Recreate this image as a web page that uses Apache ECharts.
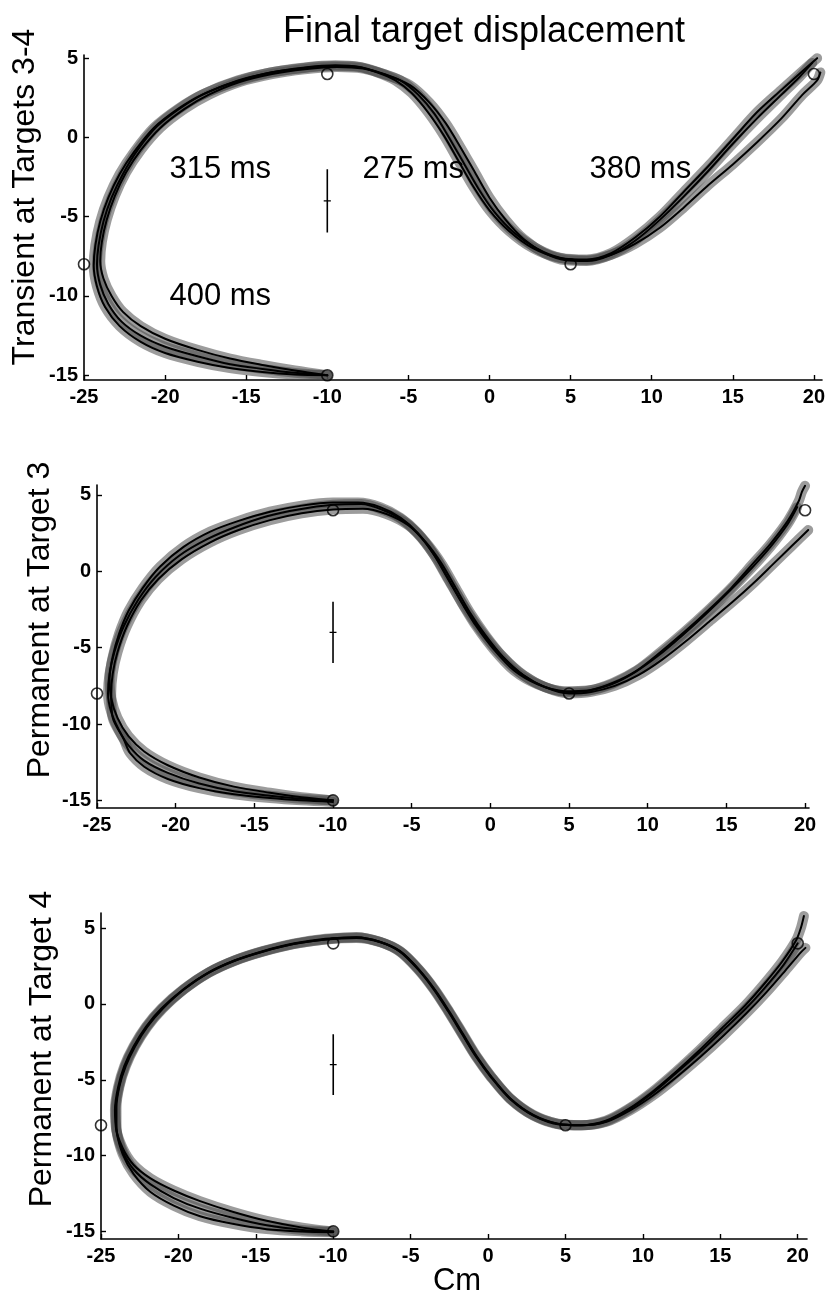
<!DOCTYPE html>
<html>
<head>
<meta charset="utf-8">
<script src="https://cdn.jsdelivr.net/npm/echarts@6/dist/echarts.min.js"></script>
<style>html,body{margin:0;padding:0;background:#fff}#chart{width:833px;height:1300px}</style>
</head>
<body>
<div id="chart"></div>
<script>
// ---------- DATA ----------
const title = 'Final target displacement';
const panelNames = ['Transient at Targets 3-4', 'Permanent at Target 3', 'Permanent at Target 4'];
const xAxisName = 'Cm';
const xTicks = [-25, -20, -15, -10, -5, 0, 5, 10, 15, 20];
const yTicks = [-15, -10, -5, 0, 5];
const targets = [[-10, -15], [-25, -8], [-10, 4], [5, -8], [20, 4]];
const errorBarV = [[-10, -2], [-10, -6]];
const errorBarH = [[-10.22, -4], [-9.78, -4]];
const durationLabels = ['315 ms', '275 ms', '380 ms', '400 ms'];
const durationAnchors = [[-16.6, -2], [-4.7, -2], [9.3, -2], [-16.6, -10]];

// Panel 1: transient at targets 3-4
const transientA = [[-10,-15],[-12,-14.85],[-14,-14.6],[-16,-14.3],[-18,-13.8],[-20,-13.2],[-21.5,-12.5],[-22.7,-11.6],[-23.5,-10.5],[-24.0,-9.3],[-24.2,-8.0],[-24.1,-6.8],[-23.8,-5.3],[-23.3,-3.8],[-22.6,-2.3],[-21.7,-0.8],[-20.5,0.7],[-19,1.9],[-17.5,2.8],[-15.5,3.6],[-13.5,4.1],[-11.5,4.4],[-9.5,4.55],[-8,4.45],[-6.8,4.1],[-5.5,3.6],[-4.4,2.7],[-3.4,1.5],[-2.5,0.0],[-1.6,-1.6],[-0.7,-3.2],[0.3,-4.7],[1.5,-6.0],[2.9,-7.0],[4.4,-7.6],[6,-7.7],[7.5,-7.3],[9,-6.3],[10.5,-5.0],[12,-3.4],[13.5,-1.8],[15,-0.1],[16.5,1.6],[18,3.0],[19.2,4.1],[20.2,5.0]];
const transientB = [[-10,-15],[-12,-14.7],[-14,-14.35],[-16,-13.95],[-18,-13.4],[-20,-12.7],[-21.5,-11.9],[-22.6,-11.0],[-23.3,-10.0],[-23.8,-8.9],[-24.0,-7.8],[-23.9,-6.6],[-23.6,-5.2],[-23.1,-3.7],[-22.4,-2.2],[-21.5,-0.8],[-20.3,0.6],[-18.8,1.8],[-17.3,2.7],[-15.4,3.5],[-13.4,4.0],[-11.4,4.3],[-9.4,4.45],[-7.8,4.35],[-6.4,3.95],[-4.9,3.3],[-3.7,2.2],[-2.7,0.9],[-1.8,-0.6],[-0.9,-2.2],[0.0,-3.8],[1.0,-5.2],[2.1,-6.4],[3.4,-7.3],[4.7,-7.75],[6,-7.8],[7.5,-7.4],[9,-6.5],[10.5,-5.2],[12,-3.7],[13.5,-2.1],[15,-0.4],[16.5,1.2],[18,2.7],[19.1,3.8],[19.9,4.7]];
const transientC = [[-10,-15],[-12,-14.95],[-14,-14.8],[-16,-14.55],[-18,-14.15],[-20,-13.6],[-21.5,-12.9],[-22.8,-11.9],[-23.7,-10.7],[-24.2,-9.4],[-24.4,-8.1],[-24.3,-6.8],[-24.0,-5.3],[-23.5,-3.8],[-22.8,-2.3],[-21.9,-0.9],[-20.7,0.6],[-19.2,1.8],[-17.7,2.7],[-15.7,3.5],[-13.7,4.05],[-11.7,4.35],[-9.7,4.5],[-8.1,4.45],[-6.9,4.1],[-5.8,3.6],[-4.8,2.8],[-3.8,1.6],[-2.8,0.1],[-1.9,-1.5],[-1.0,-3.1],[0.0,-4.6],[1.2,-5.9],[2.7,-7.0],[4.3,-7.6],[6,-7.75],[7.5,-7.4],[9,-6.7],[10.5,-5.7],[12,-4.4],[13.5,-3.0],[15,-1.7],[16.5,-0.3],[18,1.2],[19.3,2.7],[20.2,3.6],[20.4,4.1]];

// Panel 2: permanent at target 3
const target3A = [[-10,-15],[-12,-14.9],[-14,-14.7],[-16.3,-14.4],[-18.5,-13.9],[-20.5,-13.2],[-22,-12.4],[-23.0,-11.4],[-23.6,-10.4],[-24.1,-9.2],[-24.3,-8.0],[-24.2,-6.7],[-23.9,-5.3],[-23.3,-3.6],[-22.4,-1.9],[-21.3,-0.4],[-19.8,1.0],[-18,2.1],[-16.2,2.9],[-14.2,3.6],[-12.2,4.05],[-10,4.35],[-8.2,4.4],[-6.8,4.0],[-5.5,3.3],[-4.4,2.2],[-3.4,0.8],[-2.5,-0.8],[-1.6,-2.4],[-0.6,-3.9],[0.5,-5.3],[1.8,-6.6],[3.3,-7.5],[4.9,-7.9],[6.3,-7.8],[7.8,-7.3],[9.3,-6.5],[10.8,-5.3],[12.3,-4.0],[13.8,-2.6],[15.3,-1.1],[16.6,0.4],[17.8,1.8],[18.9,3.3],[19.6,4.6],[19.8,5.2],[20.0,5.6]];
const target3B = [[-10,-15.1],[-12,-15.0],[-14,-14.85],[-16.3,-14.6],[-18.5,-14.2],[-20.5,-13.6],[-22,-12.8],[-22.9,-11.9],[-23.3,-11.0],[-24.0,-9.6],[-24.1,-8.0],[-24.0,-6.7],[-23.7,-5.3],[-23.1,-3.6],[-22.2,-1.9],[-21.1,-0.5],[-19.6,0.8],[-17.8,1.9],[-16.0,2.7],[-14.0,3.35],[-12.0,3.8],[-10,4.05],[-8.1,4.1],[-6.6,3.75],[-5.2,3.0],[-4.1,1.9],[-3.1,0.5],[-2.2,-1.1],[-1.3,-2.7],[-0.3,-4.2],[0.8,-5.6],[2.1,-6.8],[3.5,-7.6],[5.0,-8.0],[6.4,-7.9],[7.9,-7.5],[9.4,-6.8],[10.9,-5.8],[12.4,-4.6],[13.9,-3.3],[15.4,-2.0],[16.8,-0.7],[18.0,0.5],[19.2,1.7],[20.2,2.7]];
const target3C = [[-10,-15],[-12,-14.8],[-14,-14.5],[-16.3,-14.1],[-18.5,-13.5],[-20.5,-12.7],[-22,-11.8],[-23.0,-10.8],[-23.7,-9.6],[-24.1,-8.3],[-24.2,-7.0],[-24.0,-5.6],[-23.6,-4.1],[-23.0,-2.6],[-22.1,-1.1],[-21.0,0.3],[-19.5,1.6],[-17.8,2.6],[-16.0,3.3],[-14.0,3.9],[-12.0,4.3],[-10,4.5],[-8.4,4.5],[-7.0,4.2],[-5.7,3.5],[-4.6,2.5],[-3.6,1.1],[-2.7,-0.5],[-1.8,-2.1],[-0.9,-3.6],[0.2,-5.1],[1.5,-6.5],[3.0,-7.4],[4.7,-7.85],[6.2,-7.8],[7.7,-7.4],[9.2,-6.6],[10.7,-5.5],[12.2,-4.2],[13.7,-2.8],[15.2,-1.3],[16.6,0.2],[17.8,1.6],[18.9,3.1],[19.5,4.2]];

// Panel 3: permanent at target 4
const target4A = [[-10,-15],[-12,-14.75],[-14.3,-14.3],[-16.5,-13.7],[-18.6,-13.0],[-20.3,-12.3],[-21.8,-11.5],[-22.9,-10.6],[-23.6,-9.5],[-24.0,-8.2],[-24.0,-6.8],[-23.8,-5.4],[-23.4,-4.1],[-22.8,-2.8],[-22.0,-1.5],[-21.0,-0.3],[-19.6,1.0],[-18.0,2.1],[-16.3,2.9],[-14.5,3.5],[-12.5,4.0],[-10.5,4.3],[-8.5,4.4],[-7.0,4.1],[-5.7,3.5],[-4.5,2.3],[-3.5,1.0],[-2.6,-0.4],[-1.7,-1.9],[-0.8,-3.4],[0.2,-4.8],[1.4,-6.2],[2.9,-7.3],[4.5,-7.9],[6.0,-8.0],[7.6,-7.7],[9.1,-6.9],[10.6,-5.8],[12.1,-4.5],[13.6,-3.1],[15.1,-1.6],[16.6,-0.1],[17.9,1.4],[19.0,2.8],[19.9,4.2],[20.2,5.0],[20.4,5.8]];
const target4B = [[-10,-15],[-12,-14.9],[-14.3,-14.6],[-16.5,-14.1],[-18.6,-13.5],[-20.3,-12.8],[-21.8,-11.9],[-22.9,-10.9],[-23.6,-9.7],[-24.0,-8.3],[-24.05,-6.9],[-23.85,-5.5],[-23.45,-4.1],[-22.85,-2.8],[-22.05,-1.5],[-21.05,-0.3],[-19.65,0.95],[-18.05,2.05],[-16.35,2.85],[-14.55,3.45],[-12.55,3.95],[-10.5,4.25],[-8.5,4.35],[-6.9,4.05],[-5.6,3.4],[-4.4,2.2],[-3.4,0.9],[-2.5,-0.5],[-1.6,-2.0],[-0.7,-3.5],[0.3,-4.9],[1.5,-6.3],[3.0,-7.4],[4.6,-7.95],[6.1,-8.0],[7.7,-7.75],[9.2,-7.0],[10.7,-6.0],[12.2,-4.8],[13.7,-3.5],[15.2,-2.1],[16.7,-0.6],[18.0,0.8],[19.2,2.2],[20.2,3.4],[20.5,3.7]];
const target4C = [[-10,-15.05],[-12,-15.0],[-14.3,-14.85],[-16.5,-14.5],[-18.6,-14.0],[-20.3,-13.3],[-21.8,-12.4],[-22.9,-11.2],[-23.6,-9.9],[-24.0,-8.4],[-24.1,-7.0],[-23.9,-5.5],[-23.5,-4.1],[-22.9,-2.8],[-22.1,-1.5],[-21.1,-0.3],[-19.7,0.95],[-18.1,2.05],[-16.4,2.85],[-14.6,3.45],[-12.6,3.95],[-10.5,4.25],[-8.5,4.4],[-7.0,4.1],[-5.7,3.45],[-4.5,2.25],[-3.5,0.95],[-2.6,-0.45],[-1.7,-1.95],[-0.8,-3.45],[0.2,-4.85],[1.4,-6.25],[2.9,-7.35],[4.5,-7.9],[6.0,-8.0],[7.6,-7.75],[9.1,-6.95],[10.6,-5.9],[12.1,-4.6],[13.6,-3.25],[15.1,-1.8],[16.6,-0.35],[17.9,1.1],[19.1,2.6],[20.0,4.0]];

const panelTrajectories = [
  [transientA, transientB, transientC],
  [target3A, target3B, target3C],
  [target4A, target4B, target4C]
];

// ---------- LAYOUT ----------
const FONT = '"Liberation Sans", Arial, Helvetica, sans-serif';
const grids = [
  {left: 84, top: 55, width: 738, height: 325},
  {left: 97, top: 485, width: 712, height: 323},
  {left: 101, top: 913, width: 706, height: 326}
];
const xRanges = [[-25, 20.5], [-25, 20.25], [-25, 20.6]];
const yRanges = [[-15.3, 5.2], [-15.5, 5.65], [-15.5, 6.0]];
const nameCenters = [[25, 197], [40, 620], [42, 1049]];

const xAxes = [], yAxes = [], series = [];
grids.forEach((g, i) => {
  const labelStyle = {color: '#000', fontSize: 20, fontFamily: FONT, fontWeight: 'bold'};
  const tickStyle = {inside: true, length: 5, lineStyle: {color: '#000', width: 1.4}};
  const lineStyle = {show: true, onZero: false, lineStyle: {color: '#000', width: 1.6}};
  xAxes.push({
    type: 'value', gridIndex: i, min: xRanges[i][0], max: xRanges[i][1],
    axisLine: lineStyle, splitLine: {show: false},
    axisLabel: Object.assign({}, labelStyle, {customValues: xTicks, margin: 7}),
    axisTick: Object.assign({}, tickStyle, {customValues: xTicks})
  });
  yAxes.push({
    type: 'value', gridIndex: i, min: yRanges[i][0], max: yRanges[i][1],
    axisLine: lineStyle, splitLine: {show: false},
    axisLabel: Object.assign({}, labelStyle, {customValues: yTicks, margin: 6}),
    axisTick: Object.assign({}, tickStyle, {customValues: yTicks})
  });

  panelTrajectories[i].forEach(tr => {
    series.push({
      type: 'line', xAxisIndex: i, yAxisIndex: i, data: tr, smooth: 0.3,
      showSymbol: false, z: 1, silent: true,
      lineStyle: {color: '#4a4a4a', width: 10, opacity: 0.55, cap: 'round', join: 'round'}
    });
  });
  panelTrajectories[i].forEach(tr => {
    series.push({
      type: 'line', xAxisIndex: i, yAxisIndex: i, data: tr, smooth: 0.3,
      showSymbol: false, z: 3, silent: true,
      lineStyle: {color: '#000', width: 2, cap: 'round', join: 'round'}
    });
  });
  series.push({
    type: 'line', xAxisIndex: i, yAxisIndex: i, data: errorBarV, showSymbol: false, z: 4,
    lineStyle: {color: '#000', width: 1.6}
  });
  series.push({
    type: 'line', xAxisIndex: i, yAxisIndex: i, data: errorBarH, showSymbol: false, z: 4,
    lineStyle: {color: '#000', width: 1.4}
  });
  series.push({
    type: 'scatter', xAxisIndex: i, yAxisIndex: i, data: targets, symbol: 'circle', symbolSize: 11, z: 5,
    itemStyle: {color: 'rgba(255,255,255,0)', borderColor: '#000', borderWidth: 1.6}
  });
});

const graphic = [
  {type: 'text', x: 484, y: 32, style: {text: title, font: '36px ' + FONT, fill: '#000', textAlign: 'center', textVerticalAlign: 'middle'}},
  {type: 'text', x: 457, y: 1281, style: {text: xAxisName, font: '31px ' + FONT, fill: '#000', textAlign: 'center', textVerticalAlign: 'middle'}}
];
panelNames.forEach((n, i) => {
  graphic.push({type: 'text', x: nameCenters[i][0], y: nameCenters[i][1], rotation: Math.PI / 2,
    style: {text: n, font: '32px ' + FONT, fill: '#000', textAlign: 'center', textVerticalAlign: 'middle'}});
});

const chart = echarts.init(document.getElementById('chart'), null, {renderer: 'canvas'});
chart.setOption({
  animation: false,
  backgroundColor: '#fff',
  grid: grids,
  xAxis: xAxes,
  yAxis: yAxes,
  series: series,
  graphic: graphic
});

// duration annotations, anchored in data coordinates of the top panel
const annot = durationAnchors.map((p, k) => {
  const px = chart.convertToPixel({xAxisIndex: 0, yAxisIndex: 0}, p);
  return {type: 'text', x: px[0], y: px[1], z: 10,
    style: {text: durationLabels[k], font: '31px ' + FONT, fill: '#000', textAlign: 'center', textVerticalAlign: 'middle'}};
});
chart.setOption({graphic: graphic.concat(annot)});
</script>
</body>
</html>
